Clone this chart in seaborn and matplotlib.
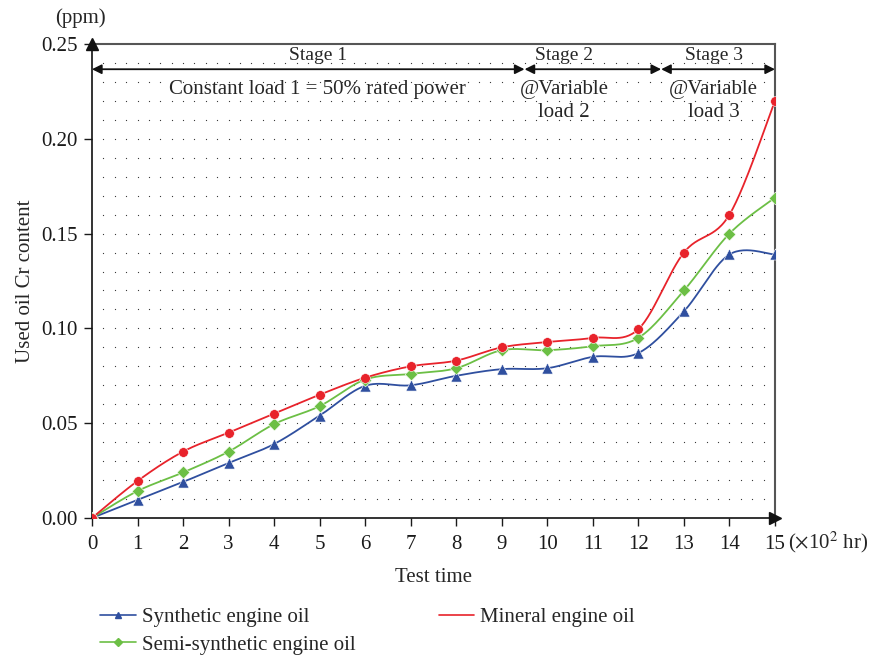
import numpy as np
import pandas as pd
import seaborn as sns
import matplotlib.pyplot as plt
from matplotlib.lines import Line2D

# test time (x100 hr) and Cr content (ppm)
test_time = list(range(16))
synthetic = [0.0, 0.0095, 0.019, 0.029, 0.039, 0.054, 0.0697, 0.070, 0.075, 0.0785,
             0.079, 0.085, 0.087, 0.109, 0.139, 0.139]
semi_synthetic = [0.0, 0.0142, 0.024, 0.035, 0.0495, 0.059, 0.073, 0.076, 0.079, 0.0885,
                  0.0885, 0.0906, 0.095, 0.120, 0.150, 0.169]
mineral = [0.0, 0.0195, 0.035, 0.045, 0.055, 0.065, 0.074, 0.080, 0.083, 0.090,
           0.0928, 0.095, 0.0996, 0.140, 0.160, 0.220]

stage_names = ["Stage 1", "Stage 2", "Stage 3"]
stage_bounds = [0, 9.5, 12.5, 15]


def smooth(x, y, n=30):
    # excel-like bezier smoothing through the data points
    x = np.asarray(x, float)
    y = np.asarray(y, float)
    p = np.column_stack([x, y])
    pts = []
    for i in range(len(p) - 1):
        p0 = p[i - 1] if i > 0 else p[i]
        p3 = p[i + 2] if i + 2 < len(p) else p[i + 1]
        c1 = p[i] + (p[i + 1] - p0) / 6
        c2 = p[i + 1] - (p3 - p[i]) / 6
        t = np.linspace(0, 1, n)[:, None]
        seg = ((1 - t) ** 3 * p[i] + 3 * (1 - t) ** 2 * t * c1
               + 3 * (1 - t) * t ** 2 * c2 + t ** 3 * p[i + 1])
        pts.append(seg if i == 0 else seg[1:])
    pts = np.vstack(pts)
    return pts[:, 0], pts[:, 1]


sns.set_style("white")
plt.rcParams["font.family"] = ["Liberation Serif", "DejaVu Serif"]
plt.rcParams["mathtext.fontset"] = "stix"
FS = 15

fig = plt.figure(figsize=(8.86, 6.56), dpi=100)
ax = fig.add_axes([0.1038, 0.2104, 0.7709, 0.7225])

# dotted background
gx, gy = np.meshgrid(np.arange(0.25, 15, 0.25), np.arange(0.01, 0.25, 0.01))
ax.scatter(gx.ravel(), gy.ravel(), s=0.8, color="#333333", linewidths=0, zorder=0)

series = [
    ("Synthetic engine oil", synthetic, "#2f4f9f", "^", 8),
    ("Semi-synthetic engine oil", semi_synthetic, "#6cbf45", "D", 6.5),
    ("Mineral engine oil", mineral, "#e8232b", "o", 7),
]

for name, vals, color, marker, ms in series:
    sx, sy = smooth(test_time, vals)
    sns.lineplot(x=sx, y=sy, ax=ax, color=color, linewidth=1.3, sort=False,
                 estimator=None, zorder=3)
    df = pd.DataFrame({"t": test_time, "v": vals})
    sns.scatterplot(data=df, x="t", y="v", ax=ax, color=color, marker=marker,
                    s=ms ** 2, edgecolor="white", linewidth=0.4, zorder=4)

ax.set_xlim(0, 15)
ax.set_ylim(0, 0.25)
ax.set_xticks(range(0, 16))
ax.set_yticks(np.arange(0, 0.26, 0.05))
ax.set_yticklabels([f"{v:.2f}" for v in np.arange(0, 0.26, 0.05)])
ax.tick_params(axis="both", direction="out", length=6, width=1, labelsize=FS,
               colors="#1a1a1a", pad=4, bottom=True, left=True)
ax.tick_params(axis="x", pad=6)
ax.set_xlabel("Test time", fontsize=FS, labelpad=10)
ax.set_ylabel("Used oil Cr content", fontsize=FS, labelpad=5)

for s in ["left", "bottom"]:
    ax.spines[s].set_color("#111111")
    ax.spines[s].set_linewidth(1.2)
for s in ["top", "right"]:
    ax.spines[s].set_color("#555555")
    ax.spines[s].set_linewidth(1.5)

# arrow heads on the axes
ax.plot(0, 1, marker="^", color="#111111", markersize=9, transform=ax.transAxes,
        clip_on=False, zorder=6)
ax.plot(1, 0, marker=">", color="#111111", markersize=9, transform=ax.transAxes,
        clip_on=False, zorder=6)

# stage arrows and labels
for i, name in enumerate(stage_names):
    a, b = stage_bounds[i], stage_bounds[i + 1]
    ax.annotate("", xy=(a, 0.2367), xytext=(b, 0.2367),
                arrowprops=dict(arrowstyle="<|-|>", color="#111111", lw=1.3,
                                shrinkA=0, shrinkB=0, mutation_scale=14))
ax.text(4.96, 0.2438, "Stage 1", ha="center", va="center", fontsize=14)
ax.text(10.37, 0.2438, "Stage 2", ha="center", va="center", fontsize=14)
ax.text(13.65, 0.2438, "Stage 3", ha="center", va="center", fontsize=14)
ax.text(4.96, 0.2262, "Constant load 1 = 50% rated power", ha="center", va="center",
        fontsize=FS)
ax.text(10.37, 0.2262, "@Variable", ha="center", va="center", fontsize=FS)
ax.text(10.37, 0.2138, "load 2", ha="center", va="center", fontsize=FS)
ax.text(13.65, 0.2262, "@Variable", ha="center", va="center", fontsize=FS)
ax.text(13.65, 0.2138, "load 3", ha="center", va="center", fontsize=FS)

fig.text(0.062, 0.972, "(ppm)", ha="left", va="center", fontsize=FS)
fig.text(0.889, 0.173, r"($\times$10$^2$ hr)", ha="left", va="center", fontsize=FS)

handles = [
    Line2D([], [], color="#2f4f9f", marker="^", markersize=5, lw=1.2),
    Line2D([], [], color="#6cbf45", marker="D", markersize=4, lw=1.2),
    Line2D([], [], color="#e8232b", lw=1.2),
]
labels = [s[0] for s in series]
fig.legend(handles, labels, ncol=2, loc="lower left", bbox_to_anchor=(0.113, 0.002),
           frameon=False, fontsize=FS, handlelength=1.7, handletextpad=0.3,
           columnspacing=4.0, labelspacing=0.38, borderpad=0, borderaxespad=0)

fig.savefig("out.png", dpi=100)
